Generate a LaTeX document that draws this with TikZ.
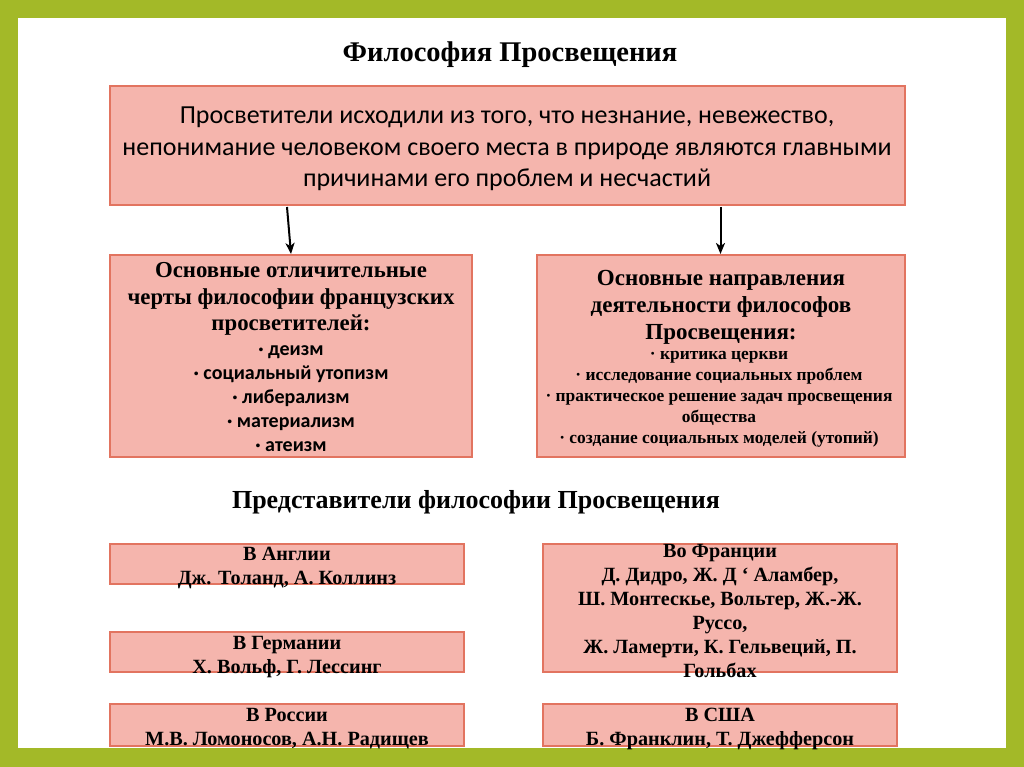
\documentclass[tikz,border=0pt]{standalone}
\usepackage{fontspec}
\setmainfont{Liberation Serif}
\newfontfamily\calibri{Carlito}
\usetikzlibrary{arrows.meta}
\definecolor{frame}{RGB}{163,185,40}
\definecolor{boxfill}{RGB}{245,181,173}
\definecolor{boxline}{RGB}{226,116,96}
\tikzset{
  pbox/.style={draw=boxline, fill=boxfill, line width=1.5pt, inner sep=0pt},
  ttl/.style={font={\fontsize{28.5}{32}\selectfont\bfseries}, align=center, inner sep=0pt},
  subttl/.style={font={\fontsize{26}{30}\selectfont\bfseries}, align=center, inner sep=0pt},
  toptext/.style={font={\calibri\fontsize{26}{31.5}\selectfont}, align=center, inner sep=0pt},
  lhd/.style={font={\fontsize{22.8}{26.5}\selectfont\bfseries}, align=center, inner sep=0pt},
  lbl/.style={font={\calibri\fontsize{20}{24}\selectfont\bfseries}, align=center, inner sep=0pt},
  rhd/.style={font={\fontsize{23}{27}\selectfont\bfseries}, align=center, inner sep=0pt},
  rbl/.style={font={\fontsize{17.4}{21}\selectfont\bfseries}, align=center, inner sep=0pt},
  ptxt/.style={font={\fontsize{20.2}{24}\selectfont\bfseries}, align=center, inner sep=0pt},
  arr/.style={line width=2pt, -{Stealth[length=11pt,width=9pt,inset=3pt]}}
}
\begin{document}
\begin{tikzpicture}[x=1pt,y=-1pt]
\useasboundingbox (0,0) rectangle (1024,767);
\fill[frame] (0,0) rectangle (1024,767);
\fill[white] (18,18) rectangle (1006,748);

\node[ttl] (title) at (510,55) {Философия Просвещения};

\node[pbox, minimum width=795pt, minimum height=119pt] (top) at (507.5,145.5) {};
\node[toptext] (toptxt) at (507,149) {Просветители исходили из того, что незнание, невежество,\\непонимание человеком своего места в природе являются главными\\причинами его проблем и несчастий};

\node[pbox, minimum width=362pt, minimum height=202pt] (left) at (291,356) {};
\node[lhd] (lhead) at (291,299) {Основные отличительные\\черты философии французских\\просветителей:};
\node[lbl] (lbul) at (291,399) {· деизм\\· социальный утопизм\\· либерализм\\· материализм\\· атеизм};

\node[pbox, minimum width=368pt, minimum height=202pt] (right) at (721,356) {};
\node[rhd] (rhead) at (721,307) {Основные направления\\деятельности философов\\Просвещения:};
\node[rbl] (rbul) at (719,399) {· критика церкви\\· исследование социальных проблем\\· практическое решение задач просвещения\\общества\\· создание социальных моделей (утопий)};

\coordinate (a1) at (287,207);
\coordinate (b1) at (291,254);
\coordinate (a2) at (720.5,207);
\coordinate (b2) at (720.5,254);
\draw[arr] (a1) -- (b1);
\draw[arr] (a2) -- (b2);

\node[subttl] (sub) at (476,502) {Представители философии Просвещения};

\node[pbox, minimum width=354pt, minimum height=40pt] (eng) at (287,564) {};
\node[ptxt] (engt) at (287,568) {В Англии\\Дж. Толанд, А. Коллинз};

\node[pbox, minimum width=354pt, minimum height=40pt] (ger) at (287,652) {};
\node[ptxt] (gert) at (287,657) {В Германии\\Х. Вольф, Г. Лессинг};

\node[pbox, minimum width=354pt, minimum height=42pt] (rus) at (287,725) {};
\node[ptxt] (rust) at (287,729) {В России\\М.В. Ломоносов, А.Н. Радищев};

\node[pbox, minimum width=354pt, minimum height=128pt] (fra) at (720,608) {};
\node[ptxt] (frat) at (720,611) {Во Франции\\Д. Дидро, Ж. Д ‘ Аламбер,\\Ш. Монтескье, Вольтер, Ж.-Ж.\\Руссо,\\Ж. Ламерти, К. Гельвеций, П.\\Гольбах};

\node[pbox, minimum width=354pt, minimum height=42pt] (usa) at (720,725) {};
\node[ptxt] (usat) at (720,729) {В США\\Б. Франклин, Т. Джефферсон};
\end{tikzpicture}
\end{document}
